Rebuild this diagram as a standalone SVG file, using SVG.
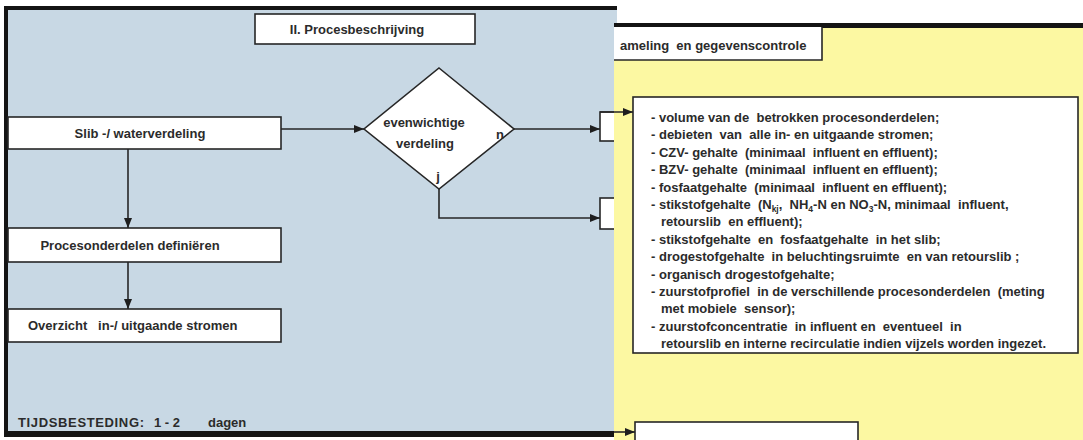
<svg xmlns="http://www.w3.org/2000/svg" width="1083" height="440" viewBox="0 0 1083 440">
  <defs>
    <marker id="arrow" viewBox="0 0 10 8" refX="10" refY="4" markerWidth="10" markerHeight="8" markerUnits="userSpaceOnUse" orient="auto">
      <path d="M0,0 L10,4 L0,8 z" fill="#1e1e1e"/>
    </marker>
    <style>
      .box { fill: #ffffff; stroke: #262626; stroke-width: 1.6; }
      .t { font-family: "Liberation Sans", Arial, sans-serif; font-weight: bold; font-size: 13px; fill: #2b2b2b; }
      .sub { font-size: 8.5px; }
      .conn { fill: none; stroke: #262626; stroke-width: 1.6; }
      .frame { fill: #141414; }
    </style>
  </defs>

  <!-- page background -->
  <rect x="0" y="0" width="1083" height="440" fill="#ffffff"/>

  <!-- left sheet: process description -->
  <g id="sheet-left">
    <rect x="5" y="8" width="612" height="426" fill="#c8d8e4"/>
    <rect class="frame" x="5" y="6" width="612" height="4"/>
    <rect class="frame" x="4" y="6" width="4" height="431"/>
    <rect class="frame" x="4" y="431" width="613" height="6"/>
  </g>

  <g id="title-left">
    <rect class="box" x="255" y="14" width="220" height="30"/>
    <text class="t" x="357" y="34" text-anchor="middle">II. Procesbeschrijving</text>
  </g>

  <g id="node-slib">
    <rect class="box" x="8" y="117" width="273" height="32"/>
    <text class="t" x="140" y="138" text-anchor="middle">Slib -/ waterverdeling</text>
  </g>

  <g id="node-decision">
    <polygon class="box" points="439,68 514,129 439,189 364,129"/>
    <text class="t" x="424" y="127" text-anchor="middle">evenwichtige</text>
    <text class="t" x="425" y="148" text-anchor="middle">verdeling</text>
    <text class="t" x="500" y="139" text-anchor="middle">n</text>
    <text class="t" x="438" y="181" text-anchor="middle">j</text>
  </g>

  <g id="node-proces">
    <rect class="box" x="8" y="228" width="273" height="34"/>
    <text class="t" x="130" y="250" text-anchor="middle">Procesonderdelen definiëren</text>
  </g>

  <g id="node-overzicht">
    <rect class="box" x="8" y="309" width="273" height="33"/>
    <text class="t" x="28" y="330" xml:space="preserve">Overzicht   in-/ uitgaande stromen</text>
  </g>

  <g id="node-n-target">
    <rect class="box" x="600" y="112" width="30" height="29"/>
  </g>

  <g id="node-j-target">
    <rect class="box" x="600" y="198" width="30" height="31"/>
  </g>

  <g id="label-time">
    <text class="t" y="427"><tspan x="18" textLength="126" lengthAdjust="spacing">TIJDSBESTEDING:</tspan><tspan x="154">1 - 2</tspan><tspan x="208">dagen</tspan></text>
  </g>

  <!-- right sheet: data collection -->
  <g id="sheet-right">
    <rect x="614" y="26" width="469" height="414" fill="#fcf8a2"/>
    <rect class="frame" x="614" y="23" width="469" height="5"/>
  </g>

  <g id="title-right">
    <rect x="614" y="27" width="208" height="33" fill="#ffffff"/>
    <path class="conn" d="M614,60 H822 V27"/>
    <text class="t" x="620" y="50" xml:space="preserve">ameling  en gegevenscontrole</text>
  </g>

  <g id="node-gegevens">
    <rect class="box" x="633" y="97" width="445" height="256"/>
    <g class="t">
      <text x="651" y="122" xml:space="preserve">- volume van de  betrokken procesonderdelen;</text>
      <text x="651" y="139.4" xml:space="preserve">- debieten  van  alle in- en uitgaande stromen;</text>
      <text x="651" y="156.8" xml:space="preserve">- CZV- gehalte  (minimaal  influent en effluent);</text>
      <text x="651" y="174.2" xml:space="preserve">- BZV- gehalte  (minimaal  influent en effluent);</text>
      <text x="651" y="191.6" xml:space="preserve">- fosfaatgehalte  (minimaal  influent en effluent);</text>
      <text x="651" y="209" xml:space="preserve">- stikstofgehalte  (N<tspan class="sub" dy="3">kj</tspan><tspan dy="-3">,  NH</tspan><tspan class="sub" dy="3">4</tspan><tspan dy="-3">-N en NO</tspan><tspan class="sub" dy="3">3</tspan><tspan dy="-3">-N, minimaal  influent,</tspan></text>
      <text x="661" y="226.4" xml:space="preserve">retourslib  en effluent);</text>
      <text x="651" y="243.8" xml:space="preserve">- stikstofgehalte  en  fosfaatgehalte  in het slib;</text>
      <text x="651" y="261.2" xml:space="preserve">- drogestofgehalte  in beluchtingsruimte  en van retourslib ;</text>
      <text x="651" y="278.6" xml:space="preserve">- organisch drogestofgehalte;</text>
      <text x="651" y="296" xml:space="preserve">- zuurstofprofiel  in de verschillende procesonderdelen  (meting</text>
      <text x="661" y="313.4" xml:space="preserve">met mobiele  sensor);</text>
      <text x="651" y="330.8" xml:space="preserve">- zuurstofconcentratie  in influent en  eventueel  in</text>
      <text x="661" y="348.2" xml:space="preserve">retourslib en interne recirculatie indien vijzels worden ingezet.</text>
    </g>
  </g>

  <g id="node-bottom">
    <rect class="box" x="635" y="422" width="223" height="30"/>
  </g>

  <g id="connectors">
    <path class="conn" d="M281,129 H364" marker-end="url(#arrow)"/>
    <path class="conn" d="M514,129 H600" marker-end="url(#arrow)"/>
    <path class="conn" d="M439,189 V218 H600" marker-end="url(#arrow)"/>
    <path class="conn" d="M128,149 V228" marker-end="url(#arrow)"/>
    <path class="conn" d="M128,262 V309" marker-end="url(#arrow)"/>
    <path class="conn" d="M600,112 H633" marker-end="url(#arrow)"/>
    <path class="conn" d="M614,432 H635" marker-end="url(#arrow)"/>
  </g>
</svg>
